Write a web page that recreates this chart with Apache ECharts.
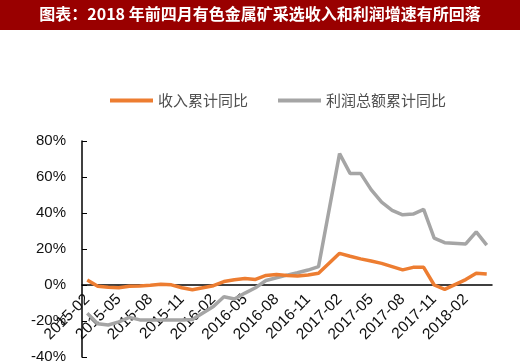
<!DOCTYPE html>
<html>
<head>
<meta charset="utf-8">
<script src="https://cdn.jsdelivr.net/npm/echarts@6/dist/echarts.min.js"></script>
<style>
html,body{margin:0;padding:0;background:#fff;}
#chart{width:520px;height:363px;}
</style>
</head>
<body>
<div id="chart"></div>
<script>
var titleText = '图表：2018 年前四月有色金属矿采选收入和利润增速有所回落';
var seriesNames = ['收入累计同比', '利润总额累计同比'];
var months = [
  '2015-02','2015-03','2015-04','2015-05','2015-06','2015-07','2015-08','2015-09','2015-10','2015-11','2015-12',
  '2016-01','2016-02','2016-03','2016-04','2016-05','2016-06','2016-07','2016-08','2016-09','2016-10','2016-11','2016-12',
  '2017-01','2017-02','2017-03','2017-04','2017-05','2017-06','2017-07','2017-08','2017-09','2017-10','2017-11','2017-12',
  '2018-01','2018-02','2018-03','2018-04'
];
var revenueYoY = [
  2.8, -0.7, -1.2, -1.5, -0.7, -0.5, -0.1, 0.4, 0.1, -1.5, -2.6,
  null, -0.4, 1.9, 2.9, 3.6, 3.1, 5.3, 5.8, 5.3, 5.0, 5.6, 6.5,
  null, 17.6, 16.0, 14.5, 13.3, 12.0, 10.2, 8.4, 9.8, 9.8, 0.0, -2.4,
  null, 3.0, 6.5, 6.1
];
var profitYoY = [
  -15.7, -21.5, -22.2, -20.5, -18.0, -19.4, -19.4, -19.4, -19.4, -19.4, -19.2,
  null, -12.0, -6.5, -7.8, -4.5, -1.5, 2.5, 4.0, 5.5, 6.8, 8.3, 10.2,
  null, 73.0, 62.0, 62.0, 53.0, 46.0, 41.5, 39.0, 39.4, 42.0, 26.0, 23.5,
  null, 22.8, 29.5, 22.2
];
var yMin = -40, yMax = 80, yStep = 20;

var chart = echarts.init(document.getElementById('chart'), null, {renderer: 'canvas'});
chart.setOption({
  backgroundColor: '#ffffff',
  animation: false,
  graphic: [
    {type: 'rect', left: 0, top: 0, shape: {width: 520, height: 30}, style: {fill: '#990000'}, z: 0},
    {type: 'text', left: 'center', top: 6, style: {text: titleText, fill: '#ffffff', font: 'bold 16px "Noto Sans CJK SC", sans-serif'}, z: 1}
  ],
  legend: {
    left: 105, top: 88,
    icon: 'rect', itemWidth: 43, itemHeight: 4, itemGap: 30,
    textStyle: {fontSize: 15, color: '#505050', fontFamily: '"Noto Sans CJK SC", sans-serif'},
    data: seriesNames
  },
  grid: {left: 82, right: 28, top: 141, bottom: 6, outerBoundsMode: 'none', containLabel: false},
  xAxis: {
    type: 'category', data: months, boundaryGap: true, position: 'bottom', offset: -72,
    axisLine: {onZero: false, lineStyle: {color: '#000', width: 1.5}},
    axisTick: {inside: true, length: 5, interval: 2, lineStyle: {color: '#000'}},
    axisLabel: {interval: 2, rotate: 45, fontSize: 15.5, color: '#111', fontFamily: '"Liberation Sans", Arial, sans-serif', margin: 12},
    splitLine: {show: false}
  },
  yAxis: {
    type: 'value', min: yMin, max: yMax, interval: yStep,
    axisLine: {show: true, lineStyle: {color: '#000', width: 1.5}},
    axisTick: {show: true, inside: true, length: 5, lineStyle: {color: '#000'}},
    axisLabel: {formatter: '{value}%', fontSize: 15, color: '#111', fontFamily: '"Liberation Sans", Arial, sans-serif', margin: 16},
    splitLine: {show: false}
  },
  series: [
    {name: seriesNames[0], type: 'line', data: revenueYoY, connectNulls: true, showSymbol: false, symbol: 'none',
     lineStyle: {color: '#ED7D31', width: 3.5}, itemStyle: {color: '#ED7D31'}, z: 3},
    {name: seriesNames[1], type: 'line', data: profitYoY, connectNulls: true, showSymbol: false, symbol: 'none',
     lineStyle: {color: '#A5A5A5', width: 3.5}, itemStyle: {color: '#A5A5A5'}, z: 2}
  ]
});
</script>
</body>
</html>
